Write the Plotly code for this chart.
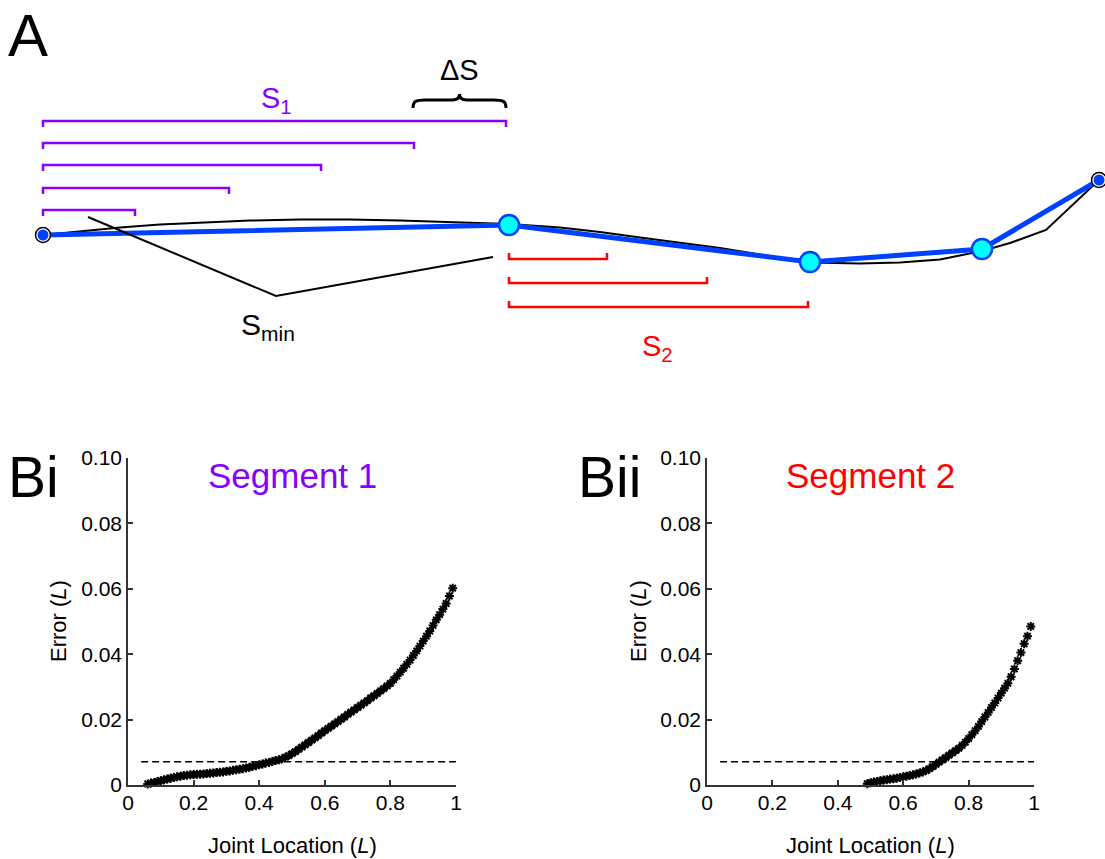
import plotly.graph_objects as go

W, H = 1105, 859
FONT = "Liberation Sans, Arial, sans-serif"
PURPLE = "#8800ff"
RED = "#ff0000"
BLUE = "#0040ff"
CYAN = "#00ffff"

# ---- Panel B: fitting error as a function of joint location ----
seg1_loc = [0.06, 0.07, 0.08, 0.09, 0.10, 0.11, 0.12, 0.13, 0.14, 0.15,
            0.16, 0.17, 0.18, 0.19, 0.20, 0.21, 0.22, 0.23, 0.24, 0.25,
            0.26, 0.27, 0.28, 0.29, 0.30, 0.31, 0.32, 0.33, 0.34, 0.35,
            0.36, 0.37, 0.38, 0.39, 0.40, 0.41, 0.42, 0.43, 0.44, 0.45,
            0.46, 0.47, 0.48, 0.49, 0.50, 0.51, 0.52, 0.53, 0.54, 0.55,
            0.56, 0.57, 0.58, 0.59, 0.60, 0.61, 0.62, 0.63, 0.64, 0.65,
            0.66, 0.67, 0.68, 0.69, 0.70, 0.71, 0.72, 0.73, 0.74, 0.75,
            0.76, 0.77, 0.78, 0.79, 0.80, 0.81, 0.82, 0.83, 0.84, 0.85,
            0.86, 0.87, 0.88, 0.89, 0.90, 0.91, 0.92, 0.93, 0.94, 0.95,
            0.96, 0.97, 0.98, 0.99]
seg1_err = [0.0003, 0.0006, 0.0008, 0.0011, 0.0013, 0.0016, 0.0018, 0.0021, 0.0023, 0.0025,
            0.0027, 0.0029, 0.0030, 0.0031, 0.0032, 0.0033, 0.0033, 0.0034, 0.0035, 0.0036,
            0.0037, 0.0038, 0.0039, 0.0040, 0.0042, 0.0043, 0.0045, 0.0047, 0.0048, 0.0050,
            0.0052, 0.0054, 0.0057, 0.0059, 0.0062, 0.0064, 0.0067, 0.0069, 0.0072, 0.0075,
            0.0077, 0.0080, 0.0085, 0.0090, 0.0096, 0.0102, 0.0109, 0.0116, 0.0123, 0.0130,
            0.0137, 0.0144, 0.0151, 0.0159, 0.0166, 0.0173, 0.0180, 0.0187, 0.0194, 0.0201,
            0.0208, 0.0216, 0.0223, 0.0230, 0.0237, 0.0244, 0.0251, 0.0258, 0.0266, 0.0273,
            0.0280, 0.0288, 0.0295, 0.0303, 0.0311, 0.0322, 0.0333, 0.0345, 0.0357, 0.0369,
            0.0382, 0.0396, 0.0410, 0.0425, 0.0440, 0.0455, 0.0471, 0.0488, 0.0505, 0.0521,
            0.0538, 0.0555, 0.0578, 0.0602]

seg2_loc = [0.49, 0.50, 0.51, 0.52, 0.53, 0.54, 0.55, 0.56, 0.57, 0.58,
            0.59, 0.60, 0.61, 0.62, 0.63, 0.64, 0.65, 0.66, 0.67, 0.68,
            0.69, 0.70, 0.71, 0.72, 0.73, 0.74, 0.75, 0.76, 0.77, 0.78,
            0.79, 0.80, 0.81, 0.82, 0.83, 0.84, 0.85, 0.86, 0.87, 0.88,
            0.89, 0.90, 0.91, 0.92, 0.93, 0.94, 0.95, 0.96, 0.97, 0.98,
            0.99]
seg2_err = [0.0004, 0.0007, 0.0009, 0.0011, 0.0013, 0.0015, 0.0016, 0.0018, 0.0019, 0.0021,
            0.0023, 0.0025, 0.0027, 0.0029, 0.0031, 0.0034, 0.0037, 0.0040, 0.0044, 0.0050,
            0.0056, 0.0063, 0.0070, 0.0077, 0.0084, 0.0091, 0.0098, 0.0105, 0.0112, 0.0121,
            0.0131, 0.0142, 0.0154, 0.0166, 0.0179, 0.0194, 0.0208, 0.0222, 0.0237, 0.0251,
            0.0266, 0.0281, 0.0296, 0.0311, 0.0331, 0.0355, 0.0380, 0.0405, 0.0432, 0.0455,
            0.0485]

threshold = 0.0071
threshold_span = [0.04, 1.0]

x_ticks = [0, 0.2, 0.4, 0.6, 0.8, 1]
x_ticktext = ["0", "0.2", "0.4", "0.6", "0.8", "1"]
y_ticks = [0, 0.02, 0.04, 0.06, 0.08, 0.10]
y_ticktext = ["0", "0.02", "0.04", "0.06", "0.08", "0.10"]

# ---- Panel A: schematic of a fibre and its piecewise-linear fit ----
fiber_x = [43, 80, 120, 160, 200, 250, 300, 350, 400, 450, 480, 509,
           560, 600, 640, 680, 720, 760, 810, 860, 900, 940, 982, 1010, 1046, 1099]
fiber_y = [235, 231.5, 227.5, 224.5, 222.5, 220.5, 219.5, 219.5, 220.5, 221.8, 222.8, 224,
           227.5, 232, 237.5, 243, 248, 254.5, 262.5, 263.5, 262.5, 259.5, 251, 243, 230, 180]
joint_x = [43, 509, 810, 982, 1099]
joint_y = [235, 225, 262, 249, 180]

s1_start = 43
s1_ends = [135, 229, 321, 414, 506]
s1_levels = [210, 188, 165, 143, 121]
s2_start = 509
s2_ends = [607, 707, 808]
s2_levels = [259, 283, 307]
tick_len = 6

smin_x = [88, 276, 493]
smin_y = [217, 296, 257]


def bracket_path(start, ends, levels, drop):
    xs, ys = [], []
    for e, lv in zip(ends, levels):
        xs += [start, start, e, e, None]
        ys += [lv + drop, lv, lv, lv + drop, None]
    return xs, ys


fig = go.Figure()

# schematic traces (x3 / y3)
fig.add_trace(go.Scatter(x=fiber_x, y=fiber_y, mode="lines",
                         line=dict(color="black", width=2),
                         xaxis="x3", yaxis="y3", showlegend=False))
bx, by = bracket_path(s1_start, s1_ends, s1_levels, tick_len)
fig.add_trace(go.Scatter(x=bx, y=by, mode="lines",
                         line=dict(color=PURPLE, width=2.5),
                         xaxis="x3", yaxis="y3", showlegend=False))
bx, by = bracket_path(s2_start, s2_ends, s2_levels, -tick_len)
fig.add_trace(go.Scatter(x=bx, y=by, mode="lines",
                         line=dict(color=RED, width=2.5),
                         xaxis="x3", yaxis="y3", showlegend=False))
fig.add_trace(go.Scatter(x=joint_x, y=joint_y, mode="lines",
                         line=dict(color=BLUE, width=5),
                         xaxis="x3", yaxis="y3", showlegend=False))
# fibre end points
ends_x = [joint_x[0], joint_x[-1]]
ends_y = [joint_y[0], joint_y[-1]]
fig.add_trace(go.Scatter(x=ends_x, y=ends_y, mode="markers", cliponaxis=False,
                         marker=dict(size=15, color="white",
                                     line=dict(color="black", width=1.5)),
                         xaxis="x3", yaxis="y3", showlegend=False))
fig.add_trace(go.Scatter(x=ends_x, y=ends_y, mode="markers", cliponaxis=False,
                         marker=dict(size=11, color=BLUE, line=dict(width=0)),
                         xaxis="x3", yaxis="y3", showlegend=False))
# interior joints
fig.add_trace(go.Scatter(x=joint_x[1:-1], y=joint_y[1:-1], mode="markers",
                         marker=dict(size=20, color=CYAN,
                                     line=dict(color=BLUE, width=2.5)),
                         xaxis="x3", yaxis="y3", showlegend=False))
# S_min leader lines
fig.add_trace(go.Scatter(x=smin_x, y=smin_y, mode="lines",
                         line=dict(color="black", width=2),
                         xaxis="x3", yaxis="y3", showlegend=False))

# error curves
for loc, err, xa, ya in [(seg1_loc, seg1_err, "x", "y"), (seg2_loc, seg2_err, "x2", "y2")]:
    fig.add_trace(go.Scatter(x=threshold_span, y=[threshold, threshold], mode="lines",
                             line=dict(color="black", width=1.5, dash="7px,4px"),
                             xaxis=xa, yaxis=ya, showlegend=False))
    fig.add_trace(go.Scatter(x=loc, y=err, mode="markers", cliponaxis=False,
                             marker=dict(symbol="asterisk-open", size=7.5, color="black",
                                         line=dict(color="black", width=2)),
                             xaxis=xa, yaxis=ya, showlegend=False))

# ΔS brace over the last increment of S1
b0, b1 = s1_ends[-2] - 1, s1_ends[-1]
bm = (b0 + b1) / 2
bt = s1_levels[-1] - 21   # horizontal part of the brace
be = bt + 8               # curled ends
bp = bt - 6               # centre point
brace = (f"M {b0},{be} C {b0},{bt+1} {b0+3},{bt} {b0+12},{bt} "
         f"L {bm-10},{bt} C {bm-3},{bt} {bm},{bt-1} {bm},{bp} "
         f"C {bm},{bt-1} {bm+3},{bt} {bm+10},{bt} "
         f"L {b1-12},{bt} C {b1-3},{bt} {b1},{bt+1} {b1},{be}")
fig.add_shape(type="path", path=brace, xref="x3", yref="y3",
              line=dict(color="black", width=3))

axis_common = dict(showline=True, linecolor="#333333", linewidth=1.5,
                   ticks="inside", ticklen=5, tickwidth=1.5, tickcolor="#333333",
                   showgrid=False, zeroline=False, automargin=False,
                   tickfont=dict(family=FONT, size=21, color="black"))

b_ydom = [1 - 785 / H, 1 - 458 / H]
fig.update_layout(
    template="none",
    width=W, height=H,
    margin=dict(l=0, r=0, t=0, b=0, pad=0, autoexpand=False),
    paper_bgcolor="white", plot_bgcolor="rgba(0,0,0,0)",
    showlegend=False,
    xaxis=dict(domain=[128 / W, 456 / W], range=[0, 1], tickvals=x_ticks,
               ticktext=x_ticktext, anchor="y", ticklabelstandoff=-2, **axis_common),
    yaxis=dict(domain=b_ydom, range=[0, 0.1], tickvals=y_ticks,
               ticktext=y_ticktext, anchor="x", **axis_common),
    xaxis2=dict(domain=[707 / W, 1034 / W], range=[0, 1], tickvals=x_ticks,
                ticktext=x_ticktext, anchor="y2", ticklabelstandoff=-2, **axis_common),
    yaxis2=dict(domain=b_ydom, range=[0, 0.1], tickvals=y_ticks,
                ticktext=y_ticktext, anchor="x2", **axis_common),
    xaxis3=dict(domain=[0, 1], range=[0, W], visible=False, anchor="y3",
                automargin=False),
    yaxis3=dict(domain=[1 - 430 / H, 1], range=[430, 0], visible=False, anchor="x3",
                automargin=False),
)


def px(x, y):
    return x / W, 1 - y / H


annotations = []


def label(text, x, y, size, color="black", xanchor="center", angle=0, ref="paper"):
    if ref == "paper":
        ax, ay = px(x, y)
        annotations.append(dict(text=text, x=ax, y=ay, xref="paper", yref="paper",
                                xanchor=xanchor, yanchor="middle", showarrow=False,
                                textangle=angle,
                                font=dict(family=FONT, size=size, color=color)))
    else:
        annotations.append(dict(text=text, x=x, y=y, xref="x3", yref="y3",
                                xanchor=xanchor, yanchor="middle", showarrow=False,
                                font=dict(family=FONT, size=size, color=color)))


# panel letters
label("A", 6, 35, 60, xanchor="left")
label("Bi", 6, 477, 57, xanchor="left")
label("Bii", 576, 477, 57, xanchor="left")

# schematic labels
label("S<sub>1</sub>", 276, 100, 29, PURPLE, ref="x3")
label("ΔS", 459, 70, 29, ref="x3")
label("S<sub>min</sub>", 268, 326, 30, ref="x3")
label("S<sub>2</sub>", 657, 348, 29, RED, ref="x3")

# panel B titles and axis labels
label("Segment 1", 292, 476, 35, PURPLE)
label("Segment 2", 870, 476, 35, RED)
for cx, ylx in [(292, 58), (870, 638)]:
    label("Joint Location (<i>L</i>)", cx, 845, 22)
    label("Error (<i>L</i>)", ylx, 621, 22, angle=-90)

fig.update_layout(annotations=annotations)

fig.write_html("out.html")
